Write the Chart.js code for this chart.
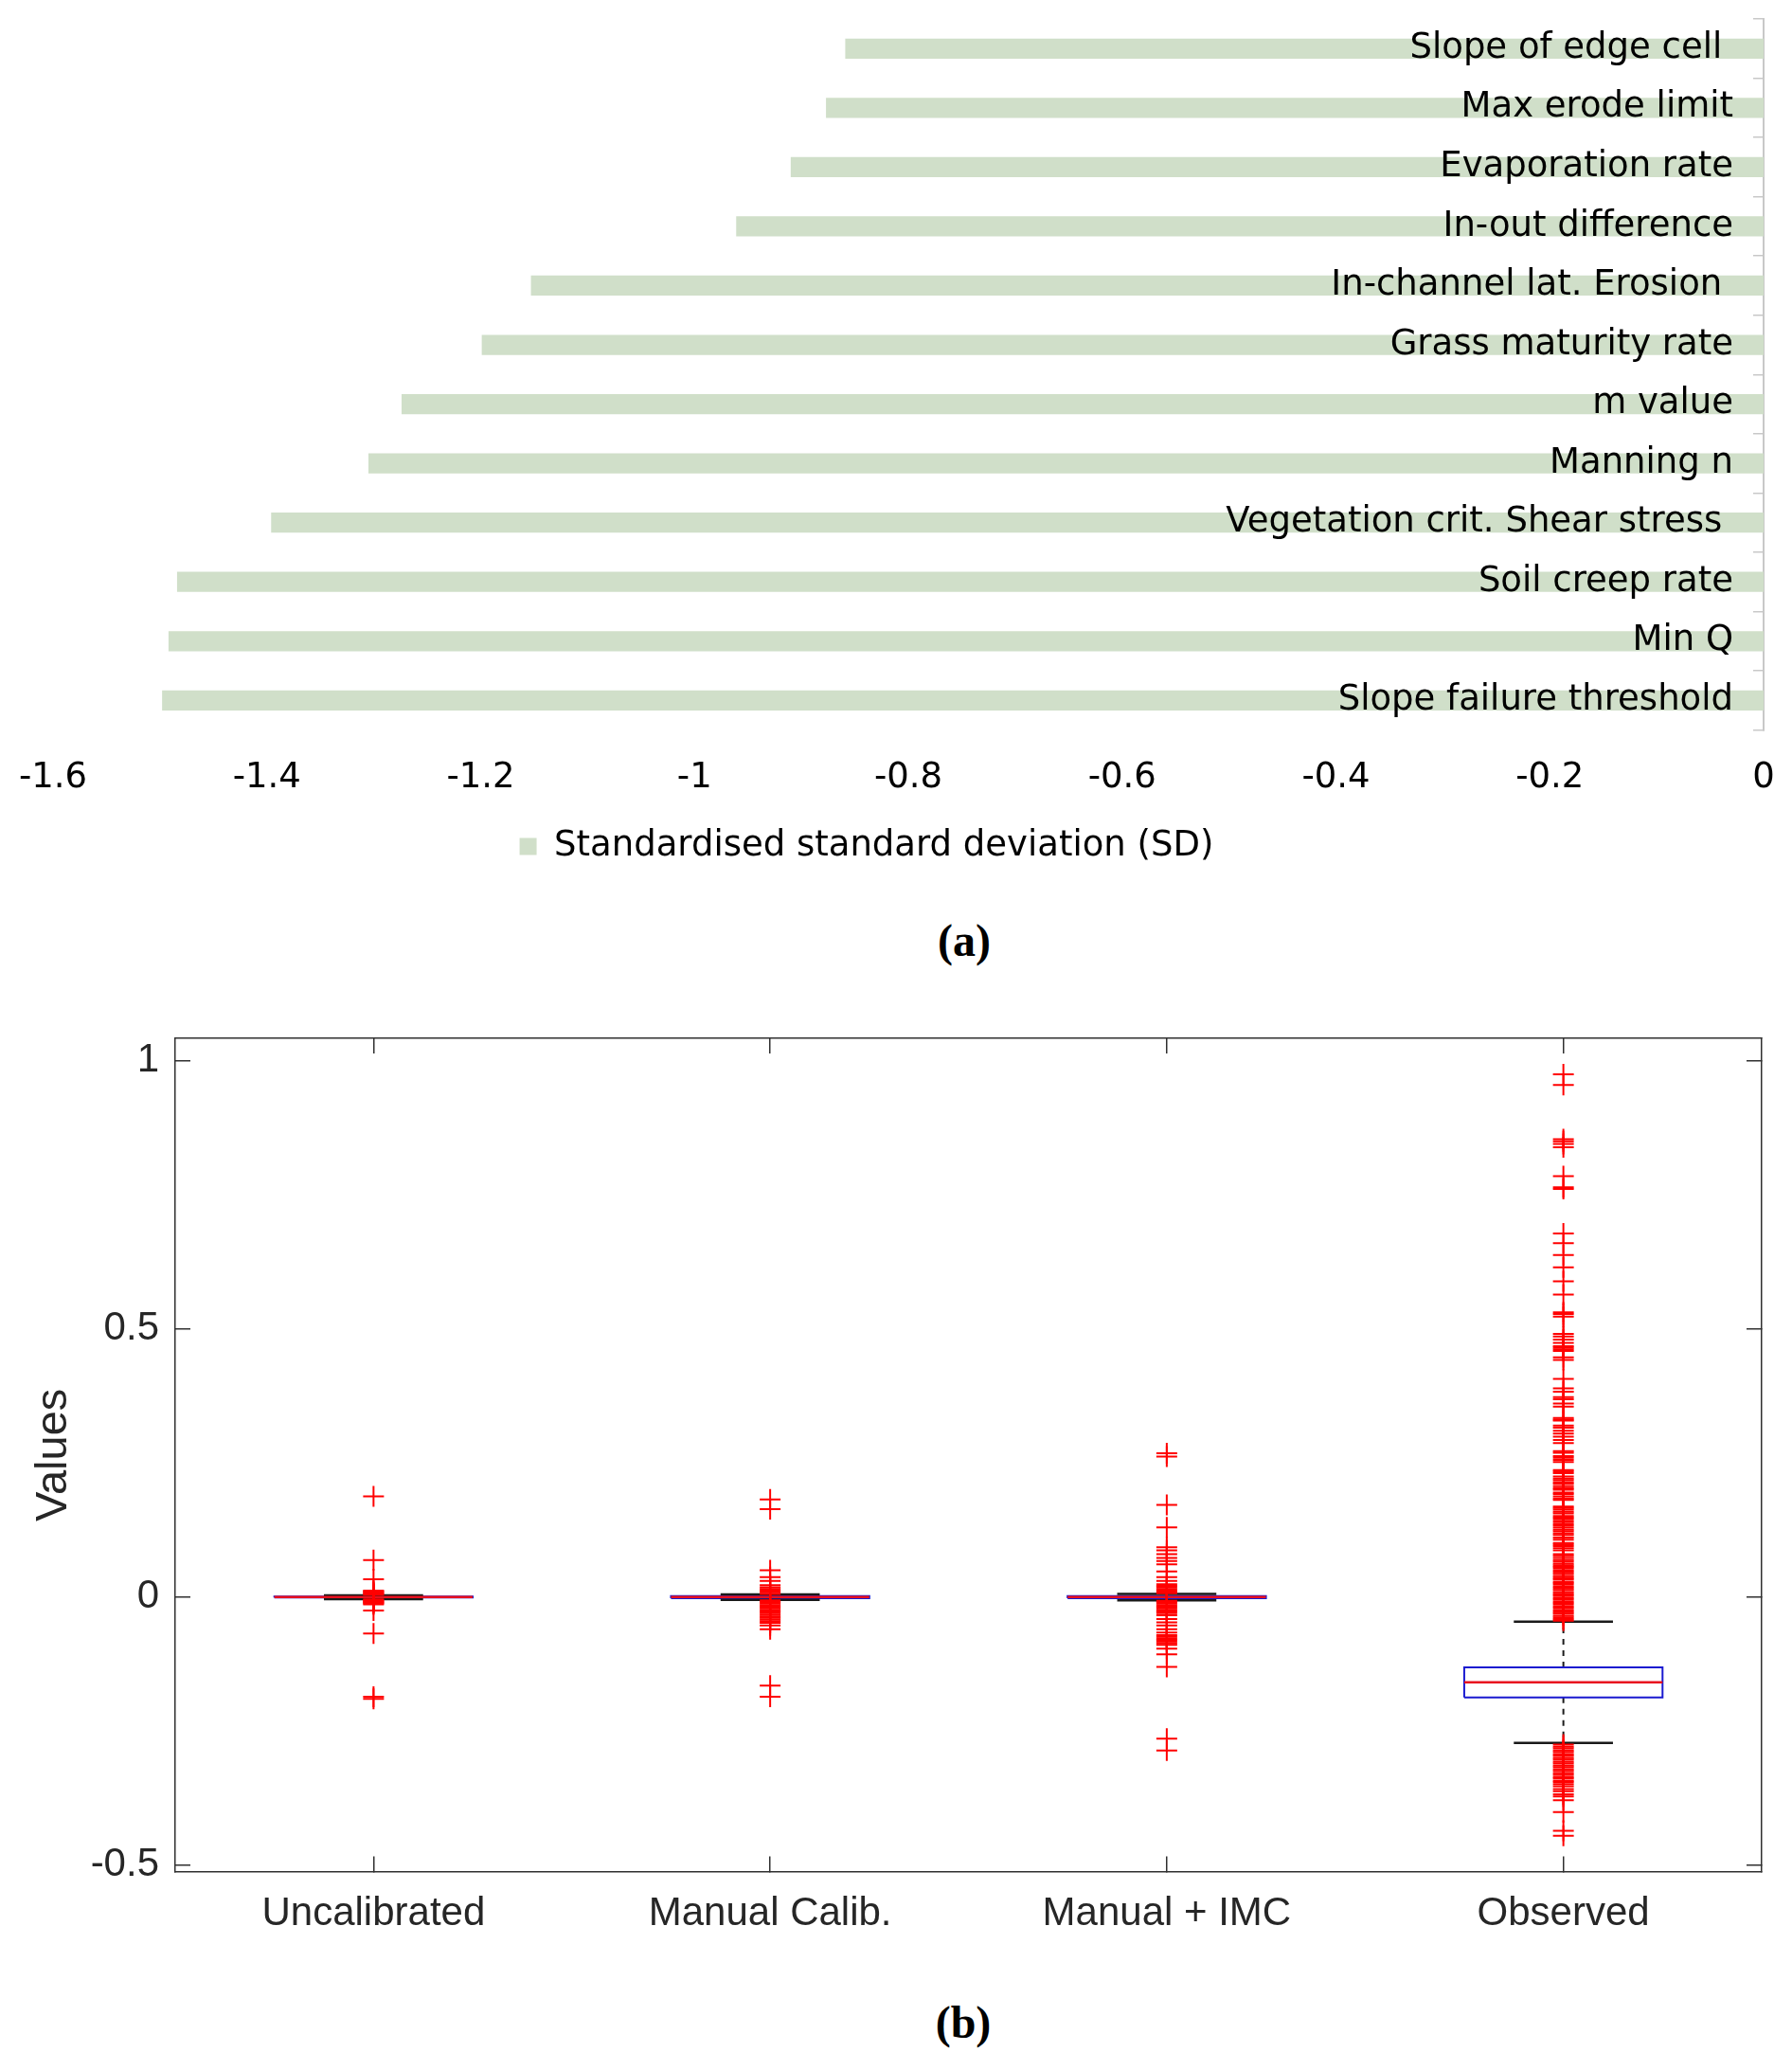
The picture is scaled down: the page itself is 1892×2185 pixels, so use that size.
<!DOCTYPE html>
<html>
<head>
<meta charset="utf-8">
<script src="https://cdn.jsdelivr.net/npm/chart.js@4.4.1/dist/chart.umd.min.js"></script>
<style>
  html, body { margin: 0; padding: 0; background: #fff; }
  body { width: 1892px; height: 2185px; position: relative; overflow: hidden; }
  .box { position: absolute; }
  .cap { position: absolute; width: 200px; text-align: center; font: bold 48px "Liberation Serif", serif; line-height: 60px; color: #000; }
</style>
</head>
<body>
<div class="box" style="left:-32px;top:0;width:1924px;height:922px"><canvas id="sdChart"></canvas></div>
<div class="cap" style="left:918px;top:963px">(a)</div>
<div class="box" style="left:0;top:1060px;width:1892px;height:1022px"><canvas id="boxChart"></canvas></div>
<div class="cap" style="left:917px;top:2105px">(b)</div>
<script>
// (a) standardised SD per parameter, top to bottom
const params = ["Slope of edge cell ", "Max erode limit", "Evaporation rate", "In-out difference",
    "In-channel lat. Erosion ", "Grass maturity rate", "m value", "Manning n",
    "Vegetation crit. Shear stress ", "Soil creep rate", "Min Q", "Slope failure threshold"];
const sdValues = [-0.859, -0.877, -0.910, -0.961, -1.153, -1.199, -1.274, -1.305, -1.396, -1.484, -1.492, -1.498];
const sdLabel = "Standardised standard deviation (SD)";

// (b) box plot summary per group
const groups = ["Uncalibrated", "Manual Calib.", "Manual + IMC", "Observed"];
const q1 = [-0.001, -0.002, -0.002, -0.187];
const medians = [0, 0, 0, -0.159];
const q3 = [0.001, 0.002, 0.002, -0.131];
const whiskerLow = [-0.004, -0.005, -0.006, -0.272];
const whiskerHigh = [0.003, 0.005, 0.006, -0.046];

const outUncal = [0.188, 0.069, 0.033, 0.012, 0.0105, 0.009, 0.0075, 0.006, 0.0045,
    -0.0045, -0.006, -0.0075, -0.009, -0.0105, -0.012, -0.0135, -0.025, -0.068, -0.186, -0.190];
const outManual = [0.182, 0.164, 0.050, 0.037, 0.030, 0.022, 0.018, 0.015, 0.012, 0.009, 0.006,
    -0.006, -0.009, -0.012, -0.015, -0.018, -0.021, -0.024, -0.027, -0.030, -0.033, -0.036,
    -0.039, -0.042, -0.045, -0.048, -0.053, -0.060, -0.165, -0.186];
const outIMC = [0.268, 0.262, 0.172, 0.130, 0.093, 0.087, 0.080, 0.073, 0.067, 0.061, 0.048,
    0.037, 0.030, 0.024, 0.021, 0.018, 0.015, 0.012, 0.009, 0.007, -0.007, -0.009, -0.012,
    -0.015, -0.018, -0.021, -0.024, -0.027, -0.030, -0.034, -0.041, -0.047, -0.053, -0.060,
    -0.066, -0.071, -0.074, -0.077, -0.080, -0.083, -0.086, -0.089, -0.096, -0.107, -0.130,
    -0.264, -0.286];
const outObserved = [0.975, 0.955, 0.854, 0.850, 0.845, 0.839, 0.785, 0.764, 0.761, 0.678, 0.660,
    0.638, 0.615, 0.589, 0.564, 0.531, 0.528, 0.523, 0.491, 0.486, 0.480, 0.474, 0.468, 0.465,
    0.462, 0.459, 0.447, 0.442, 0.407, 0.389, 0.383, 0.373, 0.369, 0.361, 0.355, 0.334, 0.331,
    0.329, 0.320, 0.316, 0.310, 0.305, 0.299, 0.293, 0.287, 0.272, 0.269, 0.263, 0.260, 0.256,
    0.252, 0.237, 0.234, 0.231, 0.225, 0.221, 0.218, 0.214, 0.211, 0.207, 0.203, 0.200, 0.195,
    0.192, 0.188, 0.184, 0.181, 0.169, 0.166, 0.163, 0.159, 0.156, 0.151, 0.148, 0.145, 0.141,
    0.137, 0.134, 0.130, 0.126, 0.123, 0.119, 0.116, 0.111, 0.107, 0.101, 0.098, 0.095, 0.091,
    0.087, 0.080, 0.077, 0.073, 0.069, 0.066, 0.062, 0.059, 0.056, 0.053, 0.049, 0.046, 0.043,
    0.039, 0.036, 0.033, 0.029, 0.026, 0.023, 0.019, 0.016, 0.013, 0.009, 0.006, 0.003, -0.001,
    -0.004, -0.008, -0.011, -0.014, -0.018, -0.021, -0.025, -0.028, -0.031, -0.035, -0.038,
    -0.041, -0.044,
    -0.275, -0.279, -0.282, -0.286, -0.289, -0.293, -0.296, -0.300, -0.303, -0.307, -0.310,
    -0.314, -0.317, -0.321, -0.324, -0.328, -0.331, -0.335, -0.338, -0.342, -0.345, -0.349,
    -0.353, -0.358, -0.362, -0.368, -0.372, -0.379, -0.401, -0.436, -0.445];
const outliers = [outUncal, outManual, outIMC, outObserved];

const BOX_HALF = 0.25;
const CAP_HALF = 0.125;

const fmt = v => String(Math.round(v * 10) / 10);

// chart (a)
const fontA = { family: "DejaVu Sans", size: 37 };
new Chart(document.getElementById("sdChart"), {
    type: "bar",
    data: {
        labels: params,
        datasets: [{
            label: sdLabel,
            data: sdValues,
            backgroundColor: "#d0dfc9",
            borderWidth: 0,
            barPercentage: 0.34,
            categoryPercentage: 1
        }]
    },
    options: {
        indexAxis: "y",
        responsive: true,
        maintainAspectRatio: false,
        animation: false,
        events: [],
        layout: { padding: { left: 0, right: 30, top: 20, bottom: 0 } },
        scales: {
            x: {
                min: -1.6,
                max: 0,
                // keep the plot edges where the Excel chart has them
                afterFit: s => { s.paddingLeft = 88; s.paddingRight = 0; },
                ticks: { stepSize: 0.2, padding: 29, color: "#000", font: fontA, callback: fmt },
                grid: { display: false, drawTicks: false },
                border: { display: false }
            },
            y: {
                position: "right",
                afterFit: s => { s.width = 0; },
                ticks: { mirror: true, padding: -32, z: 1, color: "#000", font: fontA },
                grid: { drawOnChartArea: false, tickLength: -11, color: "#c8c8c8", lineWidth: 1.5 },
                border: { color: "#c8c8c8", width: 2 }
            }
        },
        plugins: {
            legend: {
                position: "bottom",
                labels: { boxWidth: 18, boxHeight: 18, padding: 2, color: "#000", font: fontA }
            },
            tooltip: { enabled: false }
        }
    }
});

// chart (b) - box plot built from line + scatter datasets
const boxPts = [], medPts = [], whiskPts = [], capPts = [];
groups.forEach((g, i) => {
    const x = i + 1;
    boxPts.push({ x: x - BOX_HALF, y: q1[i] }, { x: x + BOX_HALF, y: q1[i] }, { x: x + BOX_HALF, y: q3[i] },
        { x: x - BOX_HALF, y: q3[i] }, { x: x - BOX_HALF, y: q1[i] }, { x: x, y: null });
    medPts.push({ x: x - BOX_HALF, y: medians[i] }, { x: x + BOX_HALF, y: medians[i] }, { x: x, y: null });
    whiskPts.push({ x: x, y: q3[i] }, { x: x, y: whiskerHigh[i] }, { x: x, y: null },
        { x: x, y: q1[i] }, { x: x, y: whiskerLow[i] }, { x: x, y: null });
    capPts.push({ x: x - CAP_HALF, y: whiskerHigh[i] }, { x: x + CAP_HALF, y: whiskerHigh[i] }, { x: x, y: null },
        { x: x - CAP_HALF, y: whiskerLow[i] }, { x: x + CAP_HALF, y: whiskerLow[i] }, { x: x, y: null });
});
const outPts = outliers.flatMap((vals, i) => vals.map(v => ({ x: i + 1, y: v })));

const fontB = { family: "Liberation Sans", size: 42 };
const axisCol = "#303030";
const frameGrid = { drawOnChartArea: false, tickLength: -16, color: axisCol, lineWidth: 1.5 };
const frameBorder = { color: axisCol, width: 1.5 };
const yMin = -0.512, yMax = 1.042;
const groupTicks = s => { s.ticks = groups.map((g, i) => ({ value: i + 1 })); };
const noPad = s => { s.paddingTop = 0; s.paddingBottom = 0; s.paddingLeft = 0; s.paddingRight = 0; };

new Chart(document.getElementById("boxChart"), {
    type: "scatter",
    data: {
        datasets: [
            { data: outPts, pointStyle: "cross", pointRadius: 11, pointBorderWidth: 2,
              pointBorderColor: "#ff0000", pointBackgroundColor: "#ff0000" },
            { data: medPts, showLine: true, spanGaps: false, pointRadius: 0, borderColor: "#e8101e", borderWidth: 2.5 },
            { data: capPts, showLine: true, spanGaps: false, pointRadius: 0, borderColor: "#1a1a1a", borderWidth: 2.5 },
            { data: boxPts, showLine: true, spanGaps: false, pointRadius: 0, borderColor: "#1a1ad0", borderWidth: 2 },
            { data: whiskPts, showLine: true, spanGaps: false, pointRadius: 0, borderColor: "#1a1a1a",
              borderWidth: 2, borderDash: [6, 6] }
        ]
    },
    options: {
        responsive: true,
        maintainAspectRatio: false,
        animation: false,
        events: [],
        layout: { padding: { left: 0, right: 32, top: 36, bottom: 0 } },
        scales: {
            x: {
                type: "linear", position: "bottom", min: 0.5, max: 4.5,
                afterBuildTicks: groupTicks,
                afterFit: noPad,
                ticks: { padding: 36, color: "#262626", font: fontB, autoSkip: false, maxRotation: 0,
                         callback: v => groups[Math.round(v) - 1] || "" },
                grid: frameGrid, border: frameBorder
            },
            xTop: {
                type: "linear", position: "top", min: 0.5, max: 4.5,
                afterBuildTicks: groupTicks,
                afterFit: s => { noPad(s); s.height = 0; },
                ticks: { display: false },
                grid: frameGrid, border: frameBorder
            },
            y: {
                type: "linear", position: "left", min: yMin, max: yMax,
                ticks: { stepSize: 0.5, includeBounds: false, padding: 33, color: "#262626", font: fontB, callback: fmt },
                title: { display: true, text: "Values", color: "#262626",
                         font: { family: "Liberation Sans", size: 47 }, padding: { top: 29, bottom: 0 } },
                afterFit: s => { noPad(s); s.width = 185; },
                grid: frameGrid, border: frameBorder
            },
            yRight: {
                type: "linear", position: "right", min: yMin, max: yMax,
                afterFit: s => { noPad(s); s.width = 0; },
                ticks: { display: false, stepSize: 0.5, includeBounds: false },
                grid: frameGrid, border: frameBorder
            }
        },
        plugins: { legend: { display: false }, tooltip: { enabled: false } }
    }
});
</script>
</body>
</html>
